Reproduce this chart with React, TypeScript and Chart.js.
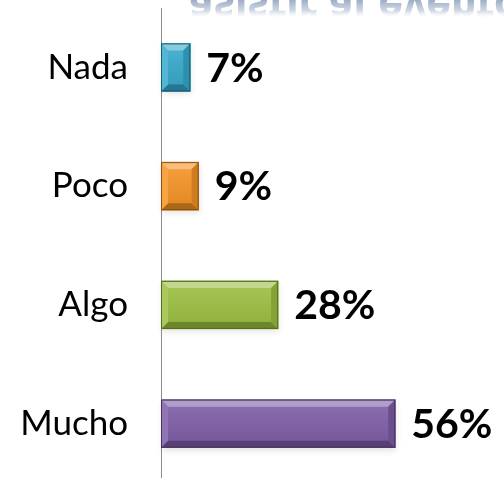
import React, { useEffect, useRef } from "react";
import { Chart, registerables } from "chart.js";

Chart.register(...registerables);

const categories = ["Nada", "Poco", "Algo", "Mucho"];
const values = [7, 9, 28, 56];
const valueLabels = ["7%", "9%", "28%", "56%"];
const barColors = ["#35A9CB", "#F59324", "#9BBE3F", "#7D5CA6"];
const reflectedTitle = "asistir al evento";

function shade(hex: string, amt: number): string {
  const n = parseInt(hex.slice(1), 16);
  let r = (n >> 16) & 255, g = (n >> 8) & 255, b = n & 255;
  const f = (c: number) => amt >= 0 ? Math.round(c + (255 - c) * amt) : Math.round(c * (1 + amt));
  r = f(r); g = f(g); b = f(b);
  return `rgb(${r},${g},${b})`;
}

const bevelPlugin = {
  id: "bevelBars",
  beforeDatasetsDraw(chart: any) {
    const ctx = chart.ctx;
    const meta = chart.getDatasetMeta(0);
    ctx.save();
    meta.data.forEach((el: any) => {
      const p = el.getProps(["x", "y", "base", "height"], true);
      const x0 = Math.min(p.base, p.x), x1 = Math.max(p.base, p.x);
      const yt = p.y - p.height / 2, yb = p.y + p.height / 2;
      ctx.shadowColor = "rgba(0,0,0,0.35)";
      ctx.shadowBlur = 6;
      ctx.shadowOffsetY = 3;
      ctx.shadowOffsetX = 1;
      ctx.fillStyle = "rgba(0,0,0,0.3)";
      ctx.fillRect(x0, yt, x1 - x0, yb - yt);
    });
    ctx.restore();
  },
  afterDatasetsDraw(chart: any) {
    const ctx = chart.ctx;
    const meta = chart.getDatasetMeta(0);
    ctx.save();
    meta.data.forEach((el: any, i: number) => {
      const p = el.getProps(["x", "y", "base", "height"], true);
      const x0 = Math.min(p.base, p.x), x1 = Math.max(p.base, p.x);
      const yt = p.y - p.height / 2, yb = p.y + p.height / 2;
      const c = barColors[i];
      const bv = Math.min(7, (x1 - x0) / 2);
      const g = ctx.createLinearGradient(0, yt, 0, yb);
      g.addColorStop(0, shade(c, 0.12));
      g.addColorStop(1, shade(c, -0.08));
      ctx.fillStyle = g;
      ctx.fillRect(x0, yt, x1 - x0, yb - yt);
      ctx.fillStyle = shade(c, 0.4);
      ctx.beginPath();
      ctx.moveTo(x0, yt); ctx.lineTo(x1, yt); ctx.lineTo(x1 - bv, yt + bv); ctx.lineTo(x0 + bv, yt + bv); ctx.closePath(); ctx.fill();
      ctx.fillStyle = shade(c, -0.3);
      ctx.beginPath();
      ctx.moveTo(x0, yb); ctx.lineTo(x1, yb); ctx.lineTo(x1 - bv, yb - bv); ctx.lineTo(x0 + bv, yb - bv); ctx.closePath(); ctx.fill();
      ctx.fillStyle = shade(c, 0.15);
      ctx.beginPath();
      ctx.moveTo(x0, yt); ctx.lineTo(x0 + bv, yt + bv); ctx.lineTo(x0 + bv, yb - bv); ctx.lineTo(x0, yb); ctx.closePath(); ctx.fill();
      ctx.fillStyle = shade(c, -0.15);
      ctx.beginPath();
      ctx.moveTo(x1, yt); ctx.lineTo(x1 - bv, yt + bv); ctx.lineTo(x1 - bv, yb - bv); ctx.lineTo(x1, yb); ctx.closePath(); ctx.fill();
      ctx.strokeStyle = shade(c, -0.45);
      ctx.lineWidth = 1;
      ctx.strokeRect(x0 + 0.5, yt + 0.5, x1 - x0 - 1, yb - yt - 1);
      ctx.fillStyle = "#000";
      ctx.font = "bold 41px Lato, 'Open Sans', sans-serif";
      ctx.textAlign = "left";
      ctx.textBaseline = "middle";
      ctx.fillText(valueLabels[i], x1 + 16, p.y + 1);
    });
    // reflected title at top
    ctx.font = "bold 42px 'DejaVu Sans', sans-serif";
    const w = ctx.measureText(reflectedTitle).width;
    const left = 189, target = 330;
    ctx.translate(left, -7);
    ctx.scale(target / w, -1);
    const grad = ctx.createLinearGradient(0, -7, 0, -26);
    grad.addColorStop(0, "rgba(150,168,194,0.95)");
    grad.addColorStop(0.55, "rgba(185,198,216,0.7)");
    grad.addColorStop(1, "rgba(255,255,255,0)");
    ctx.textAlign = "left";
    ctx.textBaseline = "alphabetic";
    ctx.fillStyle = grad;
    ctx.fillText(reflectedTitle, 0, 0);
    ctx.restore();
  },
};

export default function App() {
  const ref = useRef<HTMLCanvasElement>(null);
  useEffect(() => {
    if (!ref.current) return;
    const chart = new Chart(ref.current, {
      type: "bar",
      data: {
        labels: categories,
        datasets: [
          {
            data: values,
            backgroundColor: barColors,
            borderWidth: 0,
            barThickness: 48,
          },
        ],
      },
      options: {
        indexAxis: "y",
        animation: false,
        responsive: false,
        devicePixelRatio: 1,
        layout: { padding: { top: 8, right: 92, bottom: 0, left: 0 } },
        plugins: { legend: { display: false }, tooltip: { enabled: false } },
        scales: {
          x: { display: false, min: 0, max: 60 },
          y: {
            grid: { display: false, drawTicks: false },
            border: { display: true, color: "#8c8c8c", width: 1 },
            ticks: {
              color: "#000",
              padding: 33,
              font: { family: "Lato, 'Open Sans', sans-serif", size: 35 },
            },
            afterFit: (s: any) => {
              s.width = 161;
              s.paddingTop = 0;
              s.paddingBottom = 0;
            },
          },
        },
      },
      plugins: [bevelPlugin],
    });
    return () => chart.destroy();
  }, []);
  return (
    <div style={{ position: "fixed", left: 0, top: 0, width: 504, height: 478, overflow: "hidden", background: "#fff" }}>
      <canvas ref={ref} width={504} height={483} style={{ display: "block" }} />
    </div>
  );
}
